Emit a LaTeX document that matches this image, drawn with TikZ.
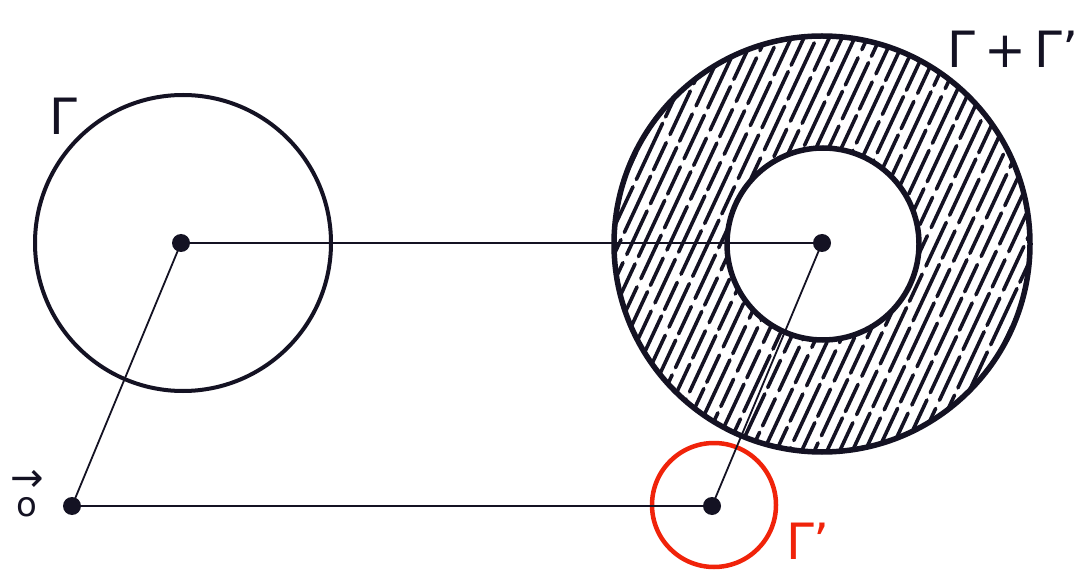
\documentclass[tikz,border=0pt]{standalone}
\usepackage{fontspec}
\newfontfamily\handfont{DejaVu Sans}
\definecolor{ink}{RGB}{20,18,35}
\definecolor{redink}{RGB}{240,35,10}
\tikzset{
  circ/.style={draw=ink, line width=4pt},
  thickcirc/.style={draw=ink, line width=5.5pt},
  conn/.style={draw=ink, line width=1.8pt},
  dotp/.style={circle, fill=ink, inner sep=0pt, minimum width=18pt, minimum height=15pt},
  lab/.style={text=ink, font=\handfont\fontsize{50}{50}\selectfont, inner sep=0pt},
  hatch/.style={draw=ink, line width=3.6pt, line cap=round}
}
\begin{document}
\begin{tikzpicture}[x=1pt,y=1pt]
\useasboundingbox[fill=white] (0,0) rectangle (1079,571);
% hatching in annulus
\begin{scope}[even odd rule]
  \clip (822,327) circle (208) (822,327) circle (96);
  \begin{scope}[shift={(822,327)}, rotate=-25]
    \foreach \i in {-20,...,20} {
      \pgfmathtruncatemacro{\ph}{mod(abs(\i)*37+11,90)}
      \draw[hatch, dash pattern=on 48pt off 8pt on 62pt off 7pt on 30pt off 9pt, dash phase=\ph pt] (\i*11.5,-230) -- (\i*11.5,230);
    }
  \end{scope}
\end{scope}
% circles
\draw[circ] (183,328) circle (148);
\draw[thickcirc] (822,327) circle (208);
\draw[thickcirc] (823,327) circle (96);
\draw[draw=redink, line width=4.5pt] (714,66) circle (62);
% points
\node[dotp] (p) at (181,328) {};
\node[dotp] (q) at (822,328) {};
\node[dotp] (o) at (72,65) {};
\node[dotp] (r) at (712,65) {};
% connectors
\draw[conn] (p.center) -- (q.center);
\draw[conn] (o.center) -- (r.center);
\draw[conn] (o.center) -- (p.center);
\draw[conn] (r.center) -- (q.center);
% labels
\node[lab] (lg) at (63,455) {Γ};
\node[lab] (lgg) at (1013,522) {Γ\,+\,Γ’};
\node[lab, text=redink] (lr) at (808,30) {Γ’};
\node[text=ink, font=\handfont\fontsize{40}{25}\selectfont, inner sep=0pt, align=center, anchor=south] (lo) at (27,54) {→\\{\fontsize{34}{25}\selectfont o}};
\end{tikzpicture}
\end{document}
